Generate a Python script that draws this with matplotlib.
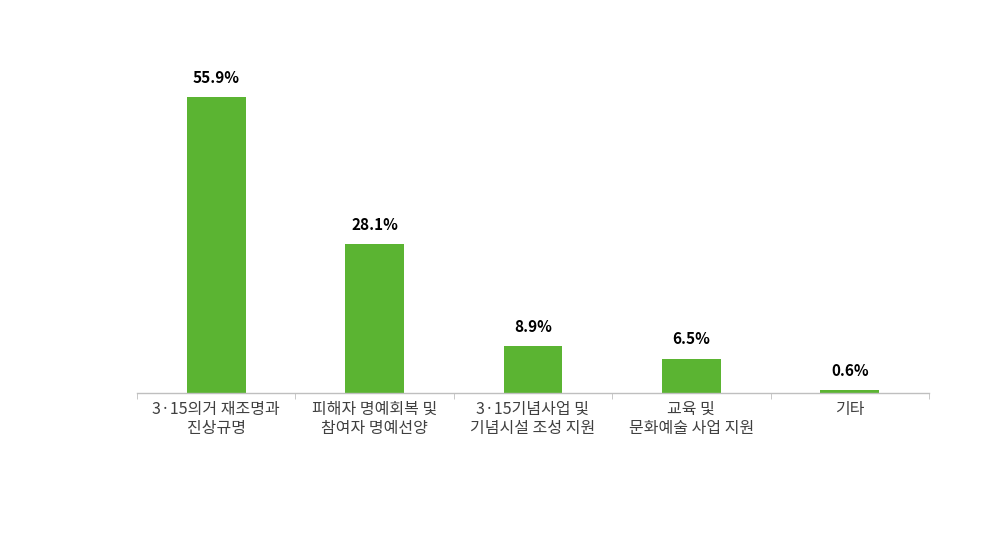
import matplotlib
matplotlib.use("Agg")
import matplotlib.pyplot as plt
import numpy as np

plt.rcParams["font.family"] = ["Noto Sans CJK KR", "DejaVu Sans"]

categories = [
    "3·15의거 재조명과\n진상규명",
    "피해자 명예회복 및\n참여자 명예선양",
    "3·15기념사업 및\n기념시설 조성 지원",
    "교육 및\n문화예술 사업 지원",
    "기타",
]
values = [55.9, 28.1, 8.9, 6.5, 0.6]

BAR_COLOR = "#5BB432"
AXIS_COLOR = "#BFBFBF"

fig = plt.figure(figsize=(10, 5.46), dpi=100)
ax = fig.add_axes([0.137, 1 - 393 / 546, 0.792, (393 - 60) / 546])

x = np.arange(len(values))
bars = ax.bar(x, values, width=0.37, color=BAR_COLOR)

for xi, v in zip(x, values):
    ax.annotate(f"{v}%", (xi, v), xytext=(0, 8), textcoords="offset points",
                ha="center", va="bottom", fontsize=11, fontweight="bold", color="black")

ax.set_xlim(-0.5, len(values) - 0.5)
ax.set_ylim(0, 62.9)
ax.set_yticks([])

ax.set_xticks(x)
ax.set_xticklabels(categories, fontsize=11.5, color="#404040", linespacing=1.15)
ax.tick_params(axis="x", which="major", length=0, pad=6)
ax.set_xticks(np.arange(-0.5, len(values)), minor=True)
ax.tick_params(axis="x", which="minor", length=4, color=AXIS_COLOR, direction="out")

for side in ["top", "right", "left"]:
    ax.spines[side].set_visible(False)
ax.spines["bottom"].set_color(AXIS_COLOR)
ax.spines["bottom"].set_linewidth(1)

fig.savefig("out.png", dpi=100)
